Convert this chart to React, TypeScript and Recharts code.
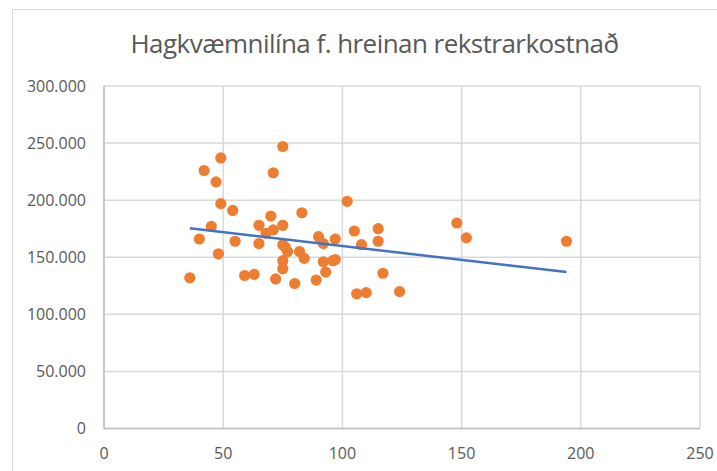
import { CartesianGrid, Scatter, ScatterChart, XAxis, YAxis } from "recharts";

const TITLE = "Hagkvæmnilína f. hreinan rekstrarkostnað";

// x values of the points
const xValues = [
  36, 40, 42, 45, 47, 48, 49, 49, 54, 55,
  59, 63, 65, 65, 68, 70, 71, 71, 72, 75,
  75, 75, 75, 75, 77, 80, 82, 83, 84, 89,
  90, 92, 92, 93, 96, 97, 102, 105, 106, 108,
  110, 115, 115, 117, 124, 148, 152, 194, 76, 97,
];

// matching y values
const yValues = [
  132000, 166000, 226000, 177000, 216000, 153000, 237000, 197000, 191000, 164000,
  134000, 135000, 178000, 162000, 171000, 186000, 174000, 224000, 131000, 247000,
  178000, 161000, 147000, 140000, 155000, 127000, 155000, 189000, 149000, 130000,
  168000, 162000, 146000, 137000, 147000, 166000, 199000, 173000, 118000, 161000,
  119000, 175000, 164000, 136000, 120000, 180000, 167000, 164000, 159000, 148000,
];

// linear trend line end points
const trendX = [36, 194];
const trendY = [175400, 137000];

const xTicks = [0, 50, 100, 150, 200, 250];
const yTicks = [0, 50000, 100000, 150000, 200000, 250000, 300000];

const points = xValues.map((x, i) => ({ x, y: yValues[i] }));
const trend = trendX.map((x, i) => ({ x, y: trendY[i] }));

const FONT = "'Open Sans', sans-serif";
const tickStyle = { fill: "#595959", fontSize: 16, fontFamily: FONT };

function fmtThousands(v: number): string {
  return String(v).replace(/\B(?=(\d{3})+(?!\d))/g, ".");
}

export default function App() {
  return (
    <div
      style={{
        position: "absolute",
        left: 0,
        top: 0,
        width: 717,
        height: 471,
        overflow: "hidden",
        background: "#fff",
      }}
    >
      {/* chart area frame, runs off the right/bottom edge */}
      <div
        style={{
          position: "absolute",
          left: 12,
          top: 9,
          width: 740,
          height: 500,
          border: "1.5px solid #d9d9d9",
          boxSizing: "border-box",
        }}
      />
      <div
        style={{
          position: "absolute",
          left: 0,
          top: 24.5,
          width: 749,
          textAlign: "center",
          fontFamily: FONT,
          fontSize: 26,
          letterSpacing: -0.55,
          whiteSpace: "nowrap",
          color: "#595959",
        }}
      >
        {TITLE}
      </div>
      <div style={{ position: "absolute", left: 0, top: 0 }}>
        <ScatterChart
          width={717}
          height={471}
          margin={{ top: 86, right: 17, bottom: 0, left: 0 }}
        >
          <CartesianGrid stroke="#d9d9d9" strokeWidth={1.5} />
          <XAxis
            type="number"
            dataKey="x"
            domain={[0, 250]}
            ticks={xTicks}
            height={42.5}
            tick={tickStyle}
            tickLine={false}
            tickSize={0}
            tickMargin={19}
            axisLine={{ stroke: "#bfbfbf", strokeWidth: 1.5 }}
            allowDataOverflow
          />
          <YAxis
            type="number"
            dataKey="y"
            domain={[0, 300000]}
            ticks={yTicks}
            width={104}
            tick={tickStyle}
            tickLine={false}
            tickSize={0}
            tickMargin={18}
            tickFormatter={(v) => fmtThousands(Number(v))}
            axisLine={{ stroke: "#bfbfbf", strokeWidth: 1.5 }}
            allowDataOverflow
          />
          <Scatter
            data={points}
            isAnimationActive={false}
            shape={(p: any) => (
              <circle cx={p.cx} cy={p.cy} r={5.6} fill="#ED7D31" />
            )}
          />
          <Scatter
            data={trend}
            isAnimationActive={false}
            line={{ stroke: "#4472C4", strokeWidth: 2.5 }}
            shape={() => <g />}
          />
        </ScatterChart>
      </div>
    </div>
  );
}
